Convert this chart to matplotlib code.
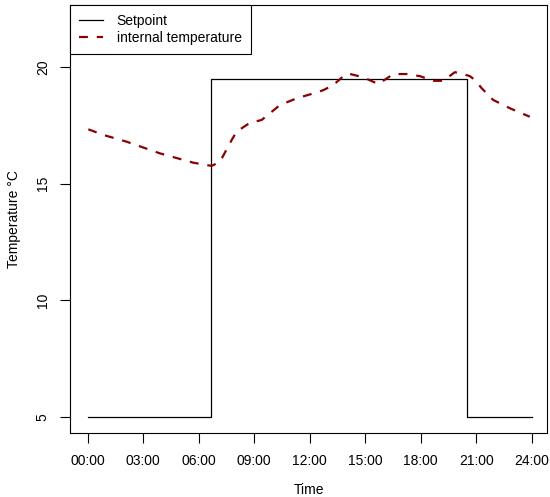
import matplotlib
matplotlib.use("Agg")
import matplotlib.pyplot as plt
from matplotlib.lines import Line2D

plt.rcParams['font.family'] = ['Liberation Sans', 'DejaVu Sans']

# Setpoint (step function), hours
setpoint_t = [0.0, 6.66, 6.66, 20.5, 20.5, 24.0]
setpoint_v = [5.0, 5.0, 19.5, 19.5, 5.0, 5.0]

# Internal temperature, hours / degrees C
temp_t = [0.03, 0.84, 2.1, 3.9, 5.7, 6.7, 7.15, 7.78, 8.05, 8.77, 9.4, 10.39,
          11.3, 12.2, 12.74, 13.28, 13.82, 14.09, 14.9, 15.71, 16.52, 17.24,
          17.96, 18.68, 19.22, 19.85, 20.2, 20.66, 20.94, 21.3, 21.92, 22.83, 23.9]
temp_v = [17.33, 17.09, 16.8, 16.3, 15.9, 15.76, 15.94, 16.87, 17.23, 17.61, 17.73, 18.37,
          18.66, 18.87, 19.01, 19.23, 19.61, 19.72, 19.56, 19.27, 19.7, 19.7,
          19.61, 19.41, 19.41, 19.78, 19.72, 19.61, 19.44, 19.09, 18.59, 18.23, 17.87]

xticks = [0, 3, 6, 9, 12, 15, 18, 21, 24]
xtick_labels = ["00:00", "03:00", "06:00", "09:00", "12:00", "15:00", "18:00", "21:00", "24:00"]
yticks = [5, 10, 15, 20]

fs = 10.0

fig = plt.figure(figsize=(5.5, 4.97), dpi=100)
ax = fig.add_axes([70/550, 1 - 433/497, 477/550, 428/497])

ax.plot(setpoint_t, setpoint_v, color='black', linewidth=0.9)
ax.plot(temp_t, temp_v, color='#8B0000', linewidth=1.6, linestyle=(0, (4, 4)))

ax.set_xlim(-0.96, 24.83)
ax.set_ylim(4.31, 22.66)
ax.set_xticks(xticks)
ax.set_xticklabels(xtick_labels)
ax.set_yticks(yticks)
ax.set_yticklabels([str(v) for v in yticks], rotation=90, va='center')
ax.tick_params(direction='out', length=7, width=0.8, labelsize=fs, pad=8)
ax.tick_params(axis='y', pad=7.5)
for s in ax.spines.values():
    s.set_linewidth(0.8)

ax.set_xlabel("Time", fontsize=fs, va='center')
ax.xaxis.set_label_coords(0.5, (433 - 490) / 428)
ax.set_ylabel("Temperature °C", fontsize=fs, va='center')
ax.yaxis.set_label_coords((14 - 70) / 477, 0.5)

handles = [Line2D([], [], color='black', linewidth=0.9),
           Line2D([], [], color='#8B0000', linewidth=1.6, linestyle=(0, (4, 4)))]
leg = ax.legend(handles, ["Setpoint", "internal temperature"], loc='upper left',
                bbox_to_anchor=(0, 1), borderaxespad=0, fancybox=False,
                edgecolor='black', framealpha=1, fontsize=fs, handlelength=1.75,
                borderpad=0.65, labelspacing=0.2, handletextpad=0.95)
leg.get_frame().set_linewidth(0.8)

fig.savefig("out.png", dpi=100)
